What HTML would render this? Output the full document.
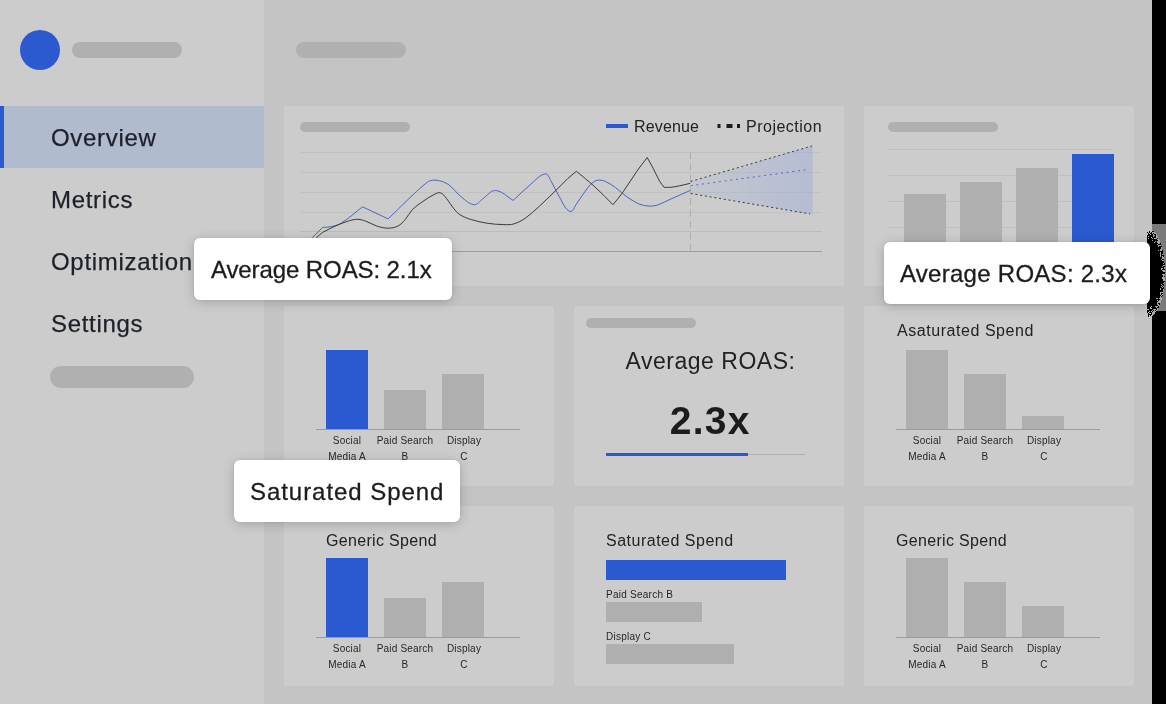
<!DOCTYPE html>
<html><head><meta charset="utf-8"><title>Dashboard</title>
<style>
*{margin:0;padding:0;box-sizing:border-box}
html,body{width:1166px;height:704px;overflow:hidden}
body{position:relative;background:#c4c4c4;font-family:"Liberation Sans",sans-serif;color:#1f1f1f}
div{position:absolute}
.side{left:0;top:0;width:264px;height:704px;background:#cccccc}
.pill{background:#b0b0b0;border-radius:99px}
.nav,.t16,.lab,.tip span,.txt{will-change:transform}
.nav{-webkit-text-stroke:.25px #1d202b;left:50.5px;font-size:24px;line-height:28px;color:#1d202b;letter-spacing:.7px;white-space:nowrap}
.card{background:#cccccc;width:270px;height:180px;border-radius:2px}
.bar{}
.axis{height:1px;background:#9c9c9c}
.lab{width:80px;text-align:center;font-size:10px;line-height:16px;color:#262626;letter-spacing:.2px;white-space:nowrap}
.t16{font-size:16px;line-height:20px;color:#222;white-space:nowrap;letter-spacing:.4px}
.tip{z-index:5;background:#fff;border-radius:6px;height:62px;box-shadow:0 2px 12px rgba(0,0,0,.2),0 0 3px rgba(0,0,0,.07);font-size:24px;line-height:28px;color:#1c1c1c;white-space:nowrap}
.tip span{position:absolute;top:17.5px;-webkit-text-stroke:.3px #1c1c1c}
svg{position:absolute;left:0;top:0}
</style></head><body>
<!-- sidebar -->
<div class="side"></div>
<div style="left:20px;top:30px;width:40px;height:40px;border-radius:50%;background:#2b59cf"></div>
<div class="pill" style="left:72px;top:42px;width:110px;height:16px"></div>
<div style="left:0;top:106px;width:264px;height:62px;background:#b1bbce"></div>
<div style="left:0;top:106px;width:4px;height:62px;background:#2b59cf"></div>
<div class="nav" style="top:124px">Overview</div>
<div class="nav" style="top:186px">Metrics</div>
<div class="nav" style="top:248px">Optimization</div>
<div class="nav" style="top:310px">Settings</div>
<div class="pill" style="left:50px;top:366px;width:144px;height:22px"></div>
<!-- header -->
<div class="pill" style="left:296px;top:42px;width:110px;height:16px"></div>
<!-- row 1 -->
<div class="card" style="left:284px;top:106px;width:560px"></div>
<div class="pill" style="left:300px;top:122px;width:110px;height:10px"></div>
<div class="card" style="left:864px;top:106px"></div>
<div class="pill" style="left:888px;top:122px;width:110px;height:10px"></div>
<!-- row 2 -->
<div class="card" style="left:284px;top:306px"></div>
<div class="card" style="left:574px;top:306px"></div>
<div class="card" style="left:864px;top:306px"></div>
<!-- row 3 -->
<div class="card" style="left:284px;top:506px"></div>
<div class="card" style="left:574px;top:506px"></div>
<div class="card" style="left:864px;top:506px"></div>

<!-- line chart + top bar chart (svg) -->
<svg width="1166" height="704" viewBox="0 0 1166 704">
<defs>
<linearGradient id="fan" x1="0" x2="1" y1="0" y2="0">
<stop offset="0" stop-color="#8ea2e0" stop-opacity=".10"/>
<stop offset="1" stop-color="#8ea2e0" stop-opacity=".36"/>
</linearGradient>
</defs>
<g stroke="#c1c1c1" stroke-width="1" shape-rendering="crispEdges">
<line x1="300" x2="822" y1="152.5" y2="152.5"/><line x1="300" x2="822" y1="172.5" y2="172.5"/>
<line x1="300" x2="822" y1="192.5" y2="192.5"/><line x1="300" x2="822" y1="212.5" y2="212.5"/>
<line x1="300" x2="822" y1="231.5" y2="231.5" stroke="#bcbcbc"/>
</g>
<line x1="300" x2="822" y1="251.5" y2="251.5" stroke="#9c9c9c" stroke-width="1"/>
<polygon points="690.5,181.5 812.5,145.8 812.5,214.2 690.5,193.5" fill="url(#fan)"/>
<line x1="690.5" x2="690.5" y1="152" y2="251" stroke="#adadad" stroke-width="1" stroke-dasharray="7 4.5"/>
<path d="M300.0 251.0 C304.2 246.5 308.2 241.8 312.5 237.4 C315.8 234.0 319.3 230.7 322.7 227.4 C325.3 227.2 328.0 227.3 330.6 226.7 C334.2 225.9 338.0 225.2 341.2 223.2 C348.8 218.5 355.4 212.3 362.5 206.8 L388.1 218.9 C400.9 206.8 412.9 193.9 426.5 182.7 C428.8 180.8 432.0 179.9 435.0 180.1 C439.5 180.4 444.0 181.7 447.8 184.1 C453.0 187.4 456.4 193.1 461.3 196.9 C465.2 200.0 469.1 204.2 474.1 204.7 C477.5 205.0 479.8 200.9 482.6 199.0 C486.9 196.2 490.3 190.3 495.4 190.5 C502.2 190.8 507.3 197.1 513.2 200.4 C519.1 195.0 524.7 189.2 530.9 184.1 C535.4 180.4 539.4 174.9 545.2 173.9 C548.1 173.4 549.3 178.1 550.8 180.6 C554.0 185.8 556.2 191.7 559.4 196.9 C562.6 202.0 564.5 209.1 570.0 211.4 C573.0 212.7 574.4 206.6 576.4 204.0 C580.3 198.8 583.5 193.1 587.5 188.0 C589.4 185.6 591.6 183.2 594.2 181.5 C595.9 180.4 597.9 180.1 599.9 180.1 C601.9 180.1 603.8 180.7 605.6 181.5 C609.1 183.2 612.4 185.3 615.5 187.6 C619.5 190.4 622.9 194.0 626.9 196.8 C631.0 199.6 635.1 202.3 639.7 204.2 C642.8 205.5 646.2 205.9 649.6 206.1 C652.2 206.2 654.9 205.9 657.4 205.1 C662.1 203.5 666.4 201.0 670.9 199.0 C677.4 196.1 683.8 193.3 690.3 190.4" fill="none" stroke="#4a64bd" stroke-width="1"/>
<path d="M303.0 251.0 C307.7 246.5 312.3 241.9 317.0 237.4 C318.8 235.7 320.5 233.7 322.7 232.4 C326.8 229.9 331.2 228.0 335.5 226.0 C339.2 224.3 343.0 222.7 346.9 221.5 C350.1 220.5 353.4 219.4 356.8 219.3 C359.7 219.2 362.6 220.1 365.4 221.0 C369.3 222.3 372.8 224.8 376.7 226.0 C380.4 227.2 384.2 228.2 388.1 228.2 C391.5 228.2 395.0 227.5 398.0 226.0 C400.9 224.6 403.1 222.0 405.2 219.6 C407.9 216.5 409.5 212.6 412.3 209.7 C415.2 206.7 418.7 204.3 422.2 201.9 C426.3 199.0 430.5 196.2 435.0 194.0 C436.7 193.2 438.9 192.2 440.7 192.9 C443.1 193.8 444.7 196.3 446.4 198.3 C449.0 201.4 450.9 205.1 453.5 208.3 C455.4 210.6 457.4 213.1 459.9 214.7 C463.4 216.9 467.4 218.4 471.3 219.6 C476.4 221.2 481.6 222.4 486.9 223.2 C492.5 224.1 498.2 224.5 503.9 224.6 C507.2 224.7 510.7 224.9 513.9 223.9 C518.0 222.7 521.8 220.6 525.3 218.2 C530.4 214.6 534.9 210.3 539.5 206.1 C545.3 200.8 550.9 195.3 556.5 189.8 C560.3 186.0 564.0 182.1 567.9 178.4 C570.6 175.9 573.6 173.7 576.4 171.3 C582.3 176.3 588.5 181.0 594.2 186.2 C600.7 192.1 606.7 198.5 613.0 204.7 C616.2 200.7 619.6 196.8 622.6 192.6 C627.6 185.7 631.9 178.3 636.8 171.3 C640.1 166.6 643.7 162.1 647.2 157.5 C649.0 160.7 650.8 163.8 652.5 167.0 C655.0 171.7 657.0 176.6 659.6 181.2 C660.9 183.4 662.6 185.3 664.1 187.3 C666.4 187.3 668.6 187.5 670.9 187.3 C673.8 187.0 676.7 186.4 679.5 185.8 C683.1 185.1 686.7 184.1 690.3 183.3" fill="none" stroke="#333" stroke-width="0.95"/>
<line x1="690.7" y1="181.5" x2="812.1" y2="145.9" stroke="#383838" stroke-width="1" stroke-dasharray="2 2.8"/>
<line x1="690.7" y1="193.5" x2="810" y2="213.9" stroke="#383838" stroke-width="1" stroke-dasharray="2 2.8"/>
<line x1="690.7" y1="185.7" x2="805.8" y2="169.8" stroke="#4f68be" stroke-width="1" stroke-dasharray="2 3.7"/>
<!-- legend -->
<rect x="606" y="124" width="22" height="4" fill="#2b59cf"/>
<rect x="717.5" y="124" width="3" height="4" fill="#1c1c1c"/><rect x="726.5" y="124" width="6" height="4" fill="#1c1c1c"/><rect x="737" y="124" width="3" height="4" fill="#1c1c1c"/>
<!-- top right bars -->
<g stroke="#c0c0c0" stroke-width="1" shape-rendering="crispEdges">
<line x1="888" x2="1112" y1="149.5" y2="149.5"/><line x1="888" x2="1112" y1="175.5" y2="175.5"/>
<line x1="888" x2="1112" y1="201.5" y2="201.5"/><line x1="888" x2="1112" y1="227.5" y2="227.5"/>
</g>
<rect x="904" y="194" width="42" height="60" fill="#afafaf"/>
<rect x="960" y="182" width="42" height="72" fill="#afafaf"/>
<rect x="1016" y="168" width="42" height="86" fill="#afafaf"/>
<rect x="1072" y="154" width="42" height="100" fill="#2b59cf"/>
</svg>
<div class="t16" style="left:633.7px;top:117px;letter-spacing:.15px">Revenue</div>
<div class="t16" style="left:745.6px;top:117px;letter-spacing:.5px">Projection</div>

<!-- row 2 content -->
<div class="bar" style="left:326px;top:350px;width:42px;height:79px;background:#2b59cf"></div>
<div class="bar" style="left:384px;top:390px;width:42px;height:39px;background:#afafaf"></div>
<div class="bar" style="left:442px;top:374px;width:42px;height:55px;background:#afafaf"></div>
<div class="axis" style="left:316px;top:429px;width:204px"></div>
<div class="lab" style="left:307px;top:433px">Social<br>Media A</div>
<div class="lab" style="left:365px;top:433px">Paid Search<br>B</div>
<div class="lab" style="left:424px;top:433px">Display<br>C</div>
<div class="pill" style="left:586px;top:318px;width:110px;height:10px"></div>
<div class="txt" style="left:574px;top:346.5px;width:271px;text-align:center;font-size:23px;line-height:28px;letter-spacing:.52px;padding-left:2px;color:#222;white-space:nowrap">Average ROAS:</div>
<div class="txt" style="left:574px;top:398px;width:270px;text-align:center;font-size:39px;line-height:46px;font-weight:bold;letter-spacing:1.3px;padding-left:2.5px;color:#1c1c1c;white-space:nowrap">2.3x</div>
<div style="left:606px;top:453px;width:142px;height:3px;background:#2b59cf"></div>
<div style="left:748px;top:454px;width:57px;height:1px;background:#b0b0b0"></div>
<div class="t16" style="left:896.5px;top:320.5px;letter-spacing:.55px">Asaturated Spend</div>
<div class="bar" style="left:906px;top:350px;width:42px;height:79px;background:#afafaf"></div>
<div class="bar" style="left:964px;top:374px;width:42px;height:55px;background:#afafaf"></div>
<div class="bar" style="left:1022px;top:416px;width:42px;height:13px;background:#afafaf"></div>
<div class="axis" style="left:896px;top:429px;width:204px"></div>
<div class="lab" style="left:887px;top:433px">Social<br>Media A</div>
<div class="lab" style="left:945px;top:433px">Paid Search<br>B</div>
<div class="lab" style="left:1004px;top:433px">Display<br>C</div>

<!-- row 3 content -->
<div class="t16" style="left:326px;top:530.5px;letter-spacing:.32px">Generic Spend</div>
<div class="bar" style="left:326px;top:558px;width:42px;height:79px;background:#2b59cf"></div>
<div class="bar" style="left:384px;top:598px;width:42px;height:39px;background:#afafaf"></div>
<div class="bar" style="left:442px;top:582px;width:42px;height:55px;background:#afafaf"></div>
<div class="axis" style="left:316px;top:637px;width:204px"></div>
<div class="lab" style="left:307px;top:641px">Social<br>Media A</div>
<div class="lab" style="left:365px;top:641px">Paid Search<br>B</div>
<div class="lab" style="left:424px;top:641px">Display<br>C</div>
<div class="t16" style="left:606px;top:531px;letter-spacing:.5px">Saturated Spend</div>
<div style="left:606px;top:560px;width:180px;height:20px;background:#2b59cf"></div>
<div class="lab" style="left:606px;top:587px;width:auto;text-align:left;letter-spacing:.25px">Paid Search B</div>
<div style="left:606px;top:602px;width:96px;height:20px;background:#afafaf"></div>
<div class="lab" style="left:606px;top:629px;width:auto;text-align:left;letter-spacing:.25px">Display C</div>
<div style="left:606px;top:644px;width:128px;height:20px;background:#afafaf"></div>
<div class="t16" style="left:896px;top:530.5px;letter-spacing:.32px">Generic Spend</div>
<div class="bar" style="left:906px;top:558px;width:42px;height:79px;background:#afafaf"></div>
<div class="bar" style="left:964px;top:582px;width:42px;height:55px;background:#afafaf"></div>
<div class="bar" style="left:1022px;top:606px;width:42px;height:31px;background:#afafaf"></div>
<div class="axis" style="left:896px;top:637px;width:204px"></div>
<div class="lab" style="left:887px;top:641px">Social<br>Media A</div>
<div class="lab" style="left:945px;top:641px">Paid Search<br>B</div>
<div class="lab" style="left:1004px;top:641px">Display<br>C</div>

<!-- tooltips -->
<div class="tip" style="left:194px;top:238px;width:258px"><span style="left:16.5px;letter-spacing:-.1px">Average ROAS: 2.1x</span></div>
<div class="tip" style="left:884px;top:242px;width:266px"><span style="left:16px;letter-spacing:.27px">Average ROAS: 2.3x</span></div>
<div class="tip" style="left:234px;top:460px;width:226px"><span style="left:15.6px;letter-spacing:.95px">Saturated Spend</span></div>

<!-- right black strip + artifact -->
<div style="left:1152px;top:0;width:14px;height:704px;background:#000"></div>
<svg width="1166" height="704" viewBox="0 0 1166 704" shape-rendering="crispEdges">
<rect x="1152" y="224" width="14" height="87" fill="#7a7a7a"/>
<clipPath id="ac"><rect x="1147" y="200" width="19" height="140"/></clipPath>
<ellipse cx="1148" cy="273" rx="17" ry="44.5" fill="#000" clip-path="url(#ac)"/>
<path d="M1147 229h1v1h-1zM1148 229h1v1h-1zM1149 229h1v1h-1zM1150 229h1v1h-1zM1151 229h1v1h-1zM1147 230h1v1h-1zM1148 230h1v1h-1zM1149 230h1v1h-1zM1150 230h1v1h-1zM1151 230h1v1h-1zM1147 231h1v1h-1zM1148 231h1v1h-1zM1150 231h1v1h-1zM1151 231h1v1h-1zM1148 232h1v1h-1zM1150 232h1v1h-1zM1147 233h1v1h-1zM1149 233h1v1h-1zM1147 234h1v1h-1zM1150 234h1v1h-1zM1148 236h1v1h-1zM1151 237h1v1h-1zM1148 238h1v1h-1zM1151 306h1v1h-1zM1150 307h1v1h-1zM1150 308h1v1h-1zM1151 308h1v1h-1zM1147 309h1v1h-1zM1148 309h1v1h-1zM1149 311h1v1h-1zM1151 311h1v1h-1zM1148 312h1v1h-1zM1147 313h1v1h-1zM1149 313h1v1h-1zM1150 313h1v1h-1zM1147 314h1v1h-1zM1147 315h1v1h-1zM1149 315h1v1h-1zM1151 315h1v1h-1zM1147 316h1v1h-1zM1149 316h1v1h-1zM1150 316h1v1h-1z" fill="#c4c4c4"/>
<path d="M1152 230h1v1h-1zM1152 232h1v1h-1zM1153 232h1v1h-1zM1154 232h1v1h-1zM1152 233h1v1h-1zM1154 233h1v1h-1zM1155 233h1v1h-1zM1153 234h1v1h-1zM1156 234h1v1h-1zM1153 235h1v1h-1zM1154 235h1v1h-1zM1156 235h1v1h-1zM1153 236h1v1h-1zM1156 236h1v1h-1zM1157 236h1v1h-1zM1156 237h1v1h-1zM1157 237h1v1h-1zM1152 238h1v1h-1zM1154 238h1v1h-1zM1155 238h1v1h-1zM1156 238h1v1h-1zM1158 238h1v1h-1zM1157 239h1v1h-1zM1158 239h1v1h-1zM1152 240h1v1h-1zM1158 240h1v1h-1zM1159 240h1v1h-1zM1155 241h1v1h-1zM1157 241h1v1h-1zM1158 241h1v1h-1zM1159 241h1v1h-1zM1154 242h1v1h-1zM1157 242h1v1h-1zM1158 242h1v1h-1zM1159 242h1v1h-1zM1158 243h1v1h-1zM1159 243h1v1h-1zM1157 244h1v1h-1zM1158 245h1v1h-1zM1159 245h1v1h-1zM1160 245h1v1h-1zM1158 246h1v1h-1zM1161 247h1v1h-1zM1161 248h1v1h-1zM1160 249h1v1h-1zM1161 249h1v1h-1zM1158 250h1v1h-1zM1160 250h1v1h-1zM1161 250h1v1h-1zM1160 252h1v1h-1zM1160 253h1v1h-1zM1160 254h1v1h-1zM1162 254h1v1h-1zM1160 255h1v1h-1zM1160 256h1v1h-1zM1162 256h1v1h-1zM1162 257h1v1h-1zM1163 257h1v1h-1zM1162 258h1v1h-1zM1163 258h1v1h-1zM1161 259h1v1h-1zM1162 260h1v1h-1zM1163 260h1v1h-1zM1163 263h1v1h-1zM1163 265h1v1h-1zM1164 265h1v1h-1zM1162 266h1v1h-1zM1164 267h1v1h-1zM1161 268h1v1h-1zM1162 268h1v1h-1zM1164 268h1v1h-1zM1161 269h1v1h-1zM1162 270h1v1h-1zM1163 270h1v1h-1zM1164 270h1v1h-1zM1163 271h1v1h-1zM1164 271h1v1h-1zM1162 274h1v1h-1zM1163 274h1v1h-1zM1164 274h1v1h-1zM1163 275h1v1h-1zM1164 275h1v1h-1zM1163 276h1v1h-1zM1162 277h1v1h-1zM1163 277h1v1h-1zM1164 277h1v1h-1zM1162 278h1v1h-1zM1163 278h1v1h-1zM1164 278h1v1h-1zM1163 279h1v1h-1zM1164 279h1v1h-1zM1163 280h1v1h-1zM1164 280h1v1h-1zM1164 282h1v1h-1zM1163 283h1v1h-1zM1161 284h1v1h-1zM1162 285h1v1h-1zM1161 286h1v1h-1zM1163 286h1v1h-1zM1162 287h1v1h-1zM1160 288h1v1h-1zM1160 289h1v1h-1zM1163 289h1v1h-1zM1163 290h1v1h-1zM1160 292h1v1h-1zM1161 292h1v1h-1zM1162 292h1v1h-1zM1160 293h1v1h-1zM1160 294h1v1h-1zM1162 294h1v1h-1zM1161 295h1v1h-1zM1160 296h1v1h-1zM1160 297h1v1h-1zM1161 297h1v1h-1zM1156 298h1v1h-1zM1157 298h1v1h-1zM1159 298h1v1h-1zM1160 298h1v1h-1zM1161 298h1v1h-1zM1160 299h1v1h-1zM1161 299h1v1h-1zM1157 300h1v1h-1zM1159 300h1v1h-1zM1160 300h1v1h-1zM1158 301h1v1h-1zM1159 301h1v1h-1zM1160 301h1v1h-1zM1157 302h1v1h-1zM1158 302h1v1h-1zM1159 302h1v1h-1zM1160 302h1v1h-1zM1157 303h1v1h-1zM1157 304h1v1h-1zM1158 304h1v1h-1zM1158 305h1v1h-1zM1159 305h1v1h-1zM1155 306h1v1h-1zM1156 306h1v1h-1zM1157 306h1v1h-1zM1156 307h1v1h-1zM1157 308h1v1h-1zM1153 309h1v1h-1zM1154 309h1v1h-1zM1155 309h1v1h-1zM1157 309h1v1h-1zM1152 310h1v1h-1zM1154 310h1v1h-1zM1156 310h1v1h-1zM1153 311h1v1h-1zM1154 311h1v1h-1zM1155 311h1v1h-1zM1152 312h1v1h-1zM1153 312h1v1h-1zM1154 312h1v1h-1zM1152 313h1v1h-1zM1153 313h1v1h-1zM1154 313h1v1h-1zM1152 314h1v1h-1zM1153 314h1v1h-1zM1152 315h1v1h-1z" fill="#a8a8a8"/>
</svg>
</body></html>
